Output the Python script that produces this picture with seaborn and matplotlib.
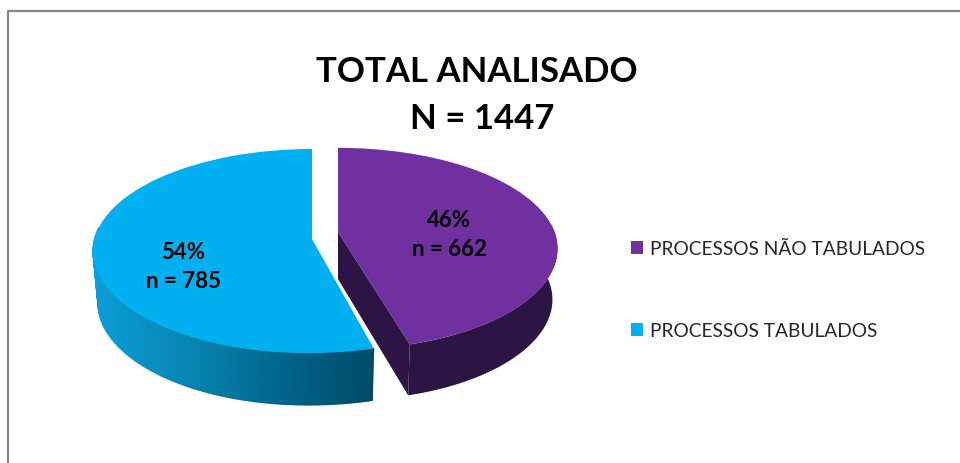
import numpy as np
import matplotlib
matplotlib.use('Agg')
import matplotlib.pyplot as plt
from matplotlib.patches import Polygon
from matplotlib.transforms import Transform
import seaborn as sns

# Dados do grafico
categorias = ['PROCESSOS NÃO TABULADOS', 'PROCESSOS TABULADOS']
valores = [662, 785]
percentuais = [46, 54]
titulo = ['TOTAL ANALISADO', 'N = 1447']

sns.set_theme(style='white')
plt.rcParams['font.family'] = ['Lato', 'DejaVu Sans']

cor_topo = ['#7030A0', '#00B0F0']


class Perspectiva(Transform):
    # leva o circulo unitario da pizza para uma elipse em pixels
    input_dims = 2
    output_dims = 2

    def __init__(self, cx, cy, rx, ry, p, d):
        super().__init__()
        self.cx, self.cy, self.rx, self.ry, self.p, self.d = cx, cy, rx, ry, p, d

    def transform_non_affine(self, pts):
        pts = np.asarray(pts)
        w = 1 + self.p * pts[:, 1]
        # d empurra so a parte da frente, como na perspectiva do original
        frente = np.minimum(pts[:, 1], 0) ** 4
        return np.column_stack([self.cx + self.rx * pts[:, 0] / w + self.d * frente,
                                self.cy - self.ry * pts[:, 1] / w])


def base(pts, cx, prof):
    # anel de baixo: um pouco mais estreito e deslocado para baixo
    return np.column_stack([cx + (pts[:, 0] - cx) * 0.977, pts[:, 1] + prof])


fig, ax = plt.subplots(figsize=(9.6, 4.64), dpi=100)
fig.subplots_adjust(0, 0, 1, 1)

wedges, _ = ax.pie(valores, colors=cor_topo, startangle=90, counterclock=False)
ax.set_aspect('auto')
ax.set_xlim(0, 960)
ax.set_ylim(464, 0)

persp = [Perspectiva(338, 233, 216.5, 98, 0.1645, 4.5),
         Perspectiva(312, 240, 217.5, 100.6, 0.118, -3.5)]

for w, t in zip(wedges, persp):
    w.set_transform(t + ax.transData)
    w.set_zorder(5)
    w.set_linewidth(0)

# lateral roxa
t = persp[0]
ang = np.radians(np.linspace(wedges[0].theta1, 5, 80))
anel = t.transform_non_affine(np.column_stack([np.cos(ang), np.sin(ang)]))
lado = np.vstack([anel, base(anel, t.cx, 51)[::-1]])
ax.add_patch(Polygon(lado, closed=True, fc='#2C1544', ec='none', zorder=3))

# face do corte roxa
ang0 = np.radians(wedges[0].theta1)
pontos = t.transform_non_affine(np.array([[0, 0], [np.cos(ang0), np.sin(ang0)]]))
prof = [47, 51]
face = np.vstack([pontos, base(pontos, t.cx, np.array(prof))[::-1]])
ax.add_patch(Polygon(face, closed=True, fc='#2C1544', ec='none', zorder=4))

# lateral azul com degrade
t = persp[1]
ang = np.radians(np.linspace(wedges[1].theta2 - 112, wedges[1].theta2, 113))
anel = t.transform_non_affine(np.column_stack([np.cos(ang), np.sin(ang)]))
baixo = base(anel, t.cx, 52)
tons = sns.blend_palette(['#0A9FD8', '#0886B4', '#00668C', '#004A66'], as_cmap=True)
X = np.vstack([anel[:, 0], baixo[:, 0]])
Y = np.vstack([anel[:, 1], baixo[:, 1]])
ax.pcolormesh(X, Y, X, cmap=tons, shading='gouraud', zorder=2)
ax.set_xlim(0, 960)
ax.set_ylim(464, 0)

# rotulos
pos_rot = [(449, 235), (183, 267)]
for (x, y), pct, n in zip(pos_rot, percentuais, valores):
    ax.text(x, y, f'{pct}%\nn = {n}', ha='center', va='center', fontsize=16,
            fontweight='bold', color='black', linespacing=1.5, zorder=6)

ax.text(477, 72, titulo[0], ha='center', va='center', fontsize=25,
        fontweight='bold', color='black')
ax.text(482, 119, titulo[1], ha='center', va='center', fontsize=25,
        fontweight='bold', color='black')

ax.legend(wedges, categorias, loc='upper left',
          bbox_to_anchor=(631 / 960, 1 - 241 / 464), frameon=False, fontsize=13.75,
          handlelength=0.63, handleheight=0.63, handletextpad=0.37,
          labelspacing=3.4, labelcolor='#262626', borderpad=0, borderaxespad=0)

# moldura
ax.plot([8, 8, 960], [464, 12, 12], color='#868686', lw=1.6, clip_on=False)

plt.savefig('out.png', dpi=100)
